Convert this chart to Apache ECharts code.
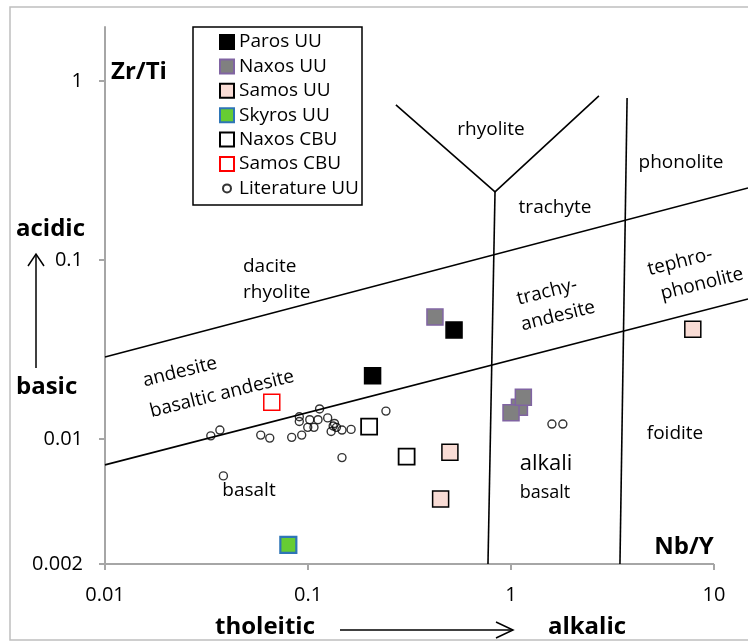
<!DOCTYPE html>
<html><head><meta charset="utf-8">
<script src="https://cdn.jsdelivr.net/npm/echarts@6/dist/echarts.min.js"></script>
<style>html,body{margin:0;padding:0;background:#fff}#chart{width:748px;height:644px}</style>
</head><body><div id="chart"></div>
<script>
// Nb/Y (x) against Zr/Ti (y) for each sample group
const parosUU = [[0.208, 0.0225], [0.524, 0.0406]];
const naxosUU = [[1.10, 0.0150], [1.00, 0.0140], [1.15, 0.0171], [0.422, 0.0479]];
const samosUU = [[0.500, 0.00843], [0.450, 0.00462], [7.86, 0.0410]];
const skyrosUU = [[0.080, 0.00256]];
const naxosCBU = [[0.200, 0.0117], [0.306, 0.00796]];
const samosCBU = [[0.0663, 0.0160]];
const literatureUU = [
  [0.0332, 0.0104], [0.0368, 0.0112], [0.0585, 0.0105], [0.0648, 0.0101],
  [0.0831, 0.0102], [0.0931, 0.0105], [0.0906, 0.0133], [0.0906, 0.0125],
  [0.102, 0.0128], [0.0997, 0.0116], [0.107, 0.0116], [0.114, 0.0147],
  [0.112, 0.0128], [0.125, 0.0131], [0.135, 0.0122], [0.130, 0.0110],
  [0.138, 0.0116], [0.133, 0.0118], [0.147, 0.0112], [0.163, 0.0113],
  [0.242, 0.0143], [0.147, 0.00786], [0.0383, 0.00621], [1.59, 0.0121],
  [1.80, 0.0121]
];

// Field boundaries of the classification diagram
const boundaryLines = [
  [[0.01, 0.0287], [14.7, 0.252]],
  [[0.01, 0.00716], [14.7, 0.0605]],
  [[0.271, 0.734], [0.834, 0.240], [2.71, 0.824]],
  [[0.834, 0.240], [0.770, 0.002]],
  [[3.73, 0.803], [3.44, 0.002]]
];

const xTicks = [0.01, 0.1, 1, 10];
const yTicks = [0.002, 0.01, 0.1, 1];
const xRange = [0.01, 14.7];   // plot runs a little past the last tick
const yRange = [0.002, 2];

const FONT = '"Open Sans", Lato, sans-serif';
const fmt = v => String(+Number(v).toPrecision(3));
const AXIS_GREY = '#a6a6a6';

const squareSeries = (name, data, fill, border, bw) => ({
  name, type: 'scatter', data, symbol: 'rect', symbolSize: 16,
  itemStyle: { color: fill, borderColor: border, borderWidth: bw, opacity: 1 },
  emphasis: { disabled: true }, z: 5
});

const series = [];
// visible x axis line stops at the last labelled tick
series.push({
  type: 'line', data: [[xTicks[0], yRange[0]], [xTicks[xTicks.length - 1], yRange[0]]],
  symbol: 'none', silent: true, clip: false,
  lineStyle: { color: AXIS_GREY, width: 2 }, z: 2
});
boundaryLines.forEach(pts => series.push({
  type: 'line', data: pts, symbol: 'none', clip: false, silent: true,
  lineStyle: { color: '#000', width: 1.6 }, z: 3
}));
series.push({
  name: 'Literature UU', type: 'scatter', data: literatureUU, symbol: 'circle', symbolSize: 8,
  itemStyle: { color: 'rgba(255,255,255,0)', borderColor: '#000', borderWidth: 1.4 },
  emphasis: { disabled: true }, z: 4
});
series.push(squareSeries('Paros UU', parosUU, '#000000', '#000000', 1.5));
series.push(squareSeries('Naxos UU', naxosUU, '#808080', '#8064a2', 1.5));
series.push(squareSeries('Samos UU', samosUU, '#f9dcd5', '#000000', 1.5));
series.push(squareSeries('Skyros UU', skyrosUU, '#66cc33', '#2e75b6', 2.2));
series.push(squareSeries('Naxos CBU', naxosCBU, '#ffffff', '#000000', 1.8));
series.push(squareSeries('Samos CBU', samosCBU, '#ffffff', '#ff0000', 1.5));

const txt = (text, x, y, size, opts = {}) => ({
  type: 'text', x, y, rotation: opts.rot ? opts.rot * Math.PI / 180 : 0, z: 10,
  style: {
    text, fill: '#000', font: (opts.bold ? 'bold ' : '') + size + 'px ' + FONT,
    align: opts.align || 'center', verticalAlign: 'middle',
    textAlign: opts.align || 'center', textVerticalAlign: 'middle'
  }
});
const ROT = 14;
const line = pts => ({ type: 'polyline', shape: { points: pts }, style: { stroke: '#000', lineWidth: 1.5, fill: 'none' }, z: 10 });
const graphics = [
  { type: 'rect', shape: { x: 10, y: 7, width: 780, height: 633 }, style: { fill: 'none', stroke: '#bfbfbf', lineWidth: 1.5 }, z: 0 },
  { type: 'rect', shape: { x: 193, y: 27, width: 169, height: 178 }, style: { fill: 'none', stroke: '#000', lineWidth: 1.5 }, z: 10 },
  txt('Zr/Ti', 111, 72, 24, { bold: true, align: 'left' }),
  txt('Nb/Y', 684, 547, 24, { bold: true }),
  txt('acidic', 16, 229, 24, { bold: true, align: 'left' }),
  txt('basic', 16, 387, 24, { bold: true, align: 'left' }),
  txt('tholeitic', 265, 627, 24, { bold: true }),
  txt('alkalic', 587, 627, 24, { bold: true }),
  line([[36, 368], [36, 254]]),
  line([[28, 266], [36, 254], [44, 266]]),
  line([[340, 630], [513, 630]]),
  line([[496, 622], [513, 630], [496, 638]]),
  txt('rhyolite', 491, 130, 19),
  txt('trachyte', 555, 208, 19),
  txt('phonolite', 681, 163, 19),
  txt('dacite', 243, 267, 19, { align: 'left' }),
  txt('rhyolite', 243, 293, 19, { align: 'left' }),
  txt('andesite', 180, 372, 19, { rot: ROT }),
  txt('basaltic andesite', 222, 394, 19, { rot: ROT }),
  txt('trachy-', 547, 292, 19, { rot: ROT }),
  txt('andesite', 558, 316, 19, { rot: ROT }),
  txt('tephro-', 680, 262, 19, { rot: ROT }),
  txt('phonolite', 702, 284, 19, { rot: ROT }),
  txt('foidite', 675, 434, 19),
  txt('alkali', 546, 464, 22),
  txt('basalt', 545, 493, 18),
  txt('basalt', 249, 491, 19)
];

const chart = echarts.init(document.getElementById('chart'), null, { renderer: 'canvas' });
chart.setOption({
  animation: false,
  backgroundColor: '#fff',
  textStyle: { fontFamily: FONT },
  grid: { left: 105, right: 0, top: 27, bottom: 80, containLabel: false },
  xAxis: {
    type: 'log', logBase: 10, min: xRange[0], max: xRange[1],
    axisLine: { show: false },
    axisTick: { show: true, length: 6, lineStyle: { color: AXIS_GREY, width: 2 }, customValues: xTicks },
    axisLabel: { color: '#000', fontSize: 20, fontFamily: FONT, margin: 21, formatter: fmt, customValues: xTicks },
    splitLine: { show: false }, minorTick: { show: false }
  },
  yAxis: {
    type: 'log', logBase: 10, min: yRange[0], max: yRange[1],
    axisLine: { show: true, lineStyle: { color: AXIS_GREY, width: 2 } },
    axisTick: { show: true, length: 6, lineStyle: { color: AXIS_GREY, width: 2 }, customValues: yTicks },
    axisLabel: { color: '#000', fontSize: 20, fontFamily: FONT, margin: 22, formatter: fmt, customValues: yTicks },
    splitLine: { show: false }
  },
  legend: {
    orient: 'vertical', left: 219, top: 32, padding: 0,
    itemWidth: 14, itemHeight: 14, itemGap: 4.4,
    textStyle: { color: '#000', fontSize: 19, fontFamily: FONT, lineHeight: 20 },
    data: [
      { name: 'Paros UU' }, { name: 'Naxos UU' }, { name: 'Samos UU' }, { name: 'Skyros UU' },
      { name: 'Naxos CBU' }, { name: 'Samos CBU' },
      { name: 'Literature UU', icon: 'path://M0,0L0,0M14,14L14,14M11,7A4,4,0,1,1,3,7A4,4,0,1,1,11,7Z' }
    ],
    selectedMode: false
  },
  series,
  graphic: graphics
});
</script></body></html>
